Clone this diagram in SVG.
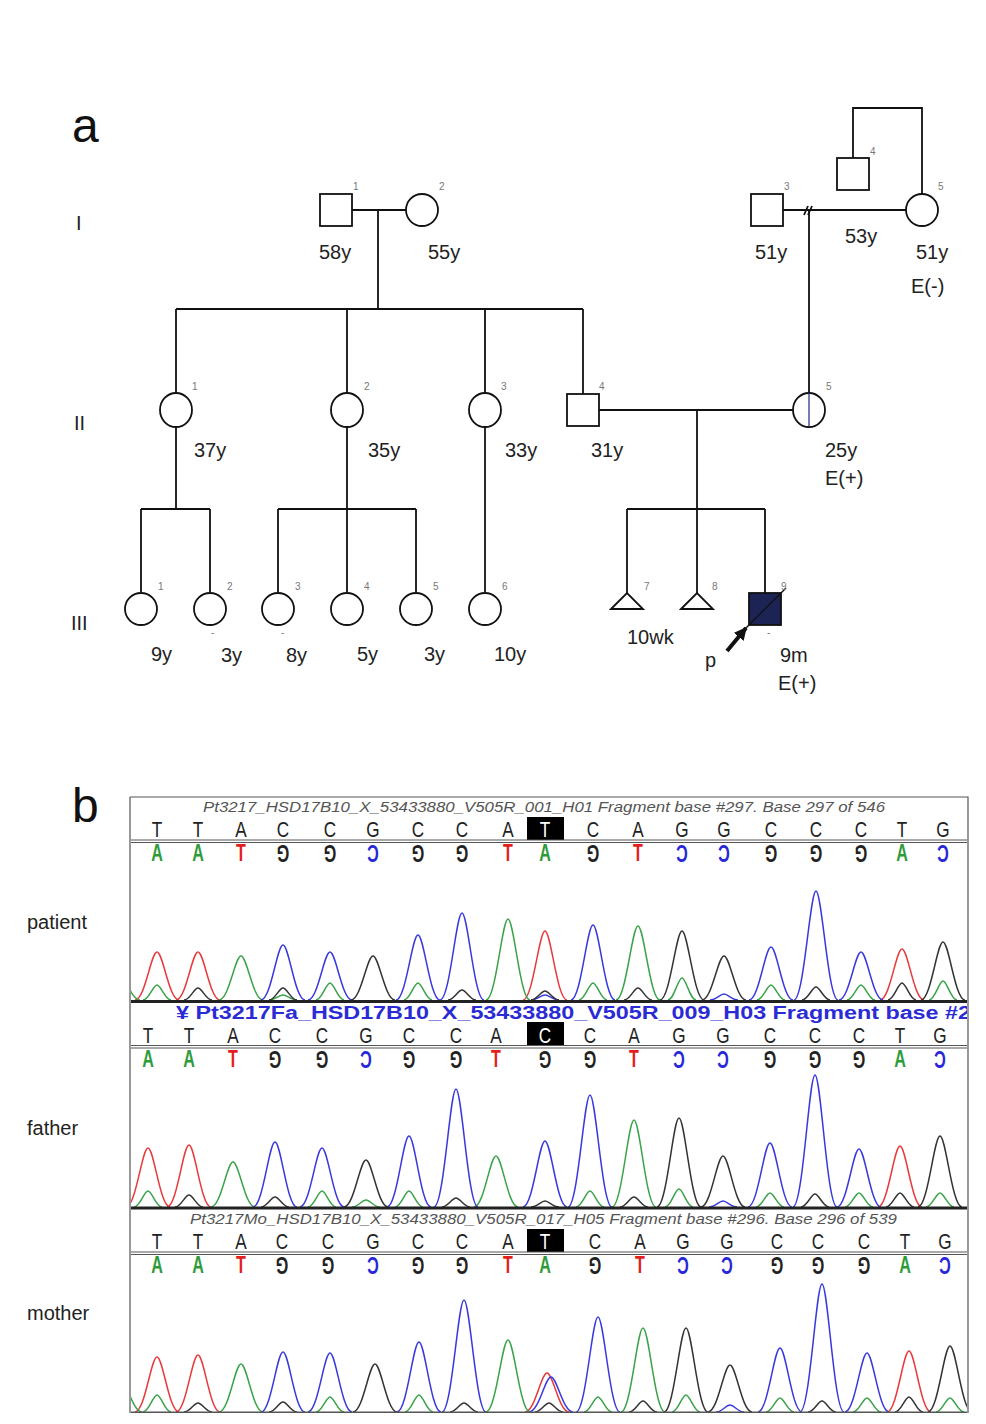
<svg xmlns="http://www.w3.org/2000/svg" width="986" height="1424" viewBox="0 0 986 1424">
<style>
text{font-family:"Liberation Sans",Arial,sans-serif}
.lbl{font-size:20px;fill:#222}
.big{font-size:48px;fill:#111}
.num{font-size:10px;fill:#777}
.sym{fill:#fff;stroke:#111;stroke-width:1.8}
.ln{fill:none;stroke:#111;stroke-width:1.8}
.b{font-size:22px;fill:#222;text-anchor:middle}
.c{font-size:23px;font-weight:bold;text-anchor:middle}
.cA{fill:#2e9b3a}.cT{fill:#e41e1e}.cG{fill:#222}.cC{fill:#2828d8}
.hl{font-size:22px;fill:#fff;text-anchor:middle}
.tr{fill:none;stroke-width:1.5;stroke-linejoin:round}
.red{stroke:#e8393b}.grn{stroke:#3aa34a}.blu{stroke:#3838e0}.blk{stroke:#333}
.ttl{font-size:15px;font-style:italic;fill:#555}
</style>
<defs>
<clipPath id="cp"><rect x="131" y="797" width="836" height="616"/></clipPath>
<marker id="ah" viewBox="0 0 10 10" refX="9" refY="5" markerWidth="3.2" markerHeight="3.2" orient="auto"><path d="M0,0 L10,5 L0,10 z" fill="#111"/></marker>
</defs>
<rect width="986" height="1424" fill="#fff"/>

<!-- Panel a -->
<text class="big" x="72" y="142">a</text>
<text class="lbl" x="76" y="230">I</text>
<text class="lbl" x="74" y="430">II</text>
<text class="lbl" x="71" y="630">III</text>

<g id="connectors">
<path class="ln" d="M352,210 H406 M378,210 V309 M176,309 H583 M176,309 V393 M347,309 V393 M485,309 V393 M583,309 V394"/>
<path class="ln" d="M783,210 H906 M809,210 V393 M853,158 V108 H922 V194"/>
<path class="ln" stroke-width="1.2" d="M804,215 L808,206 M808,215 L812,206"/>
<path class="ln" d="M599,410 H793 M697,410 V509 M627,509 H765 M627,509 V593 M697,509 V593 M765,509 V593"/>
<path class="ln" d="M176,427 V509 M141,509 H210 M141,509 V592 M210,509 V592"/>
<path class="ln" d="M347,427 V509 M278,509 H416 M278,509 V592 M347,509 V592 M416,509 V592"/>
<path class="ln" d="M485,427 V592"/>
</g>

<g id="I-1"><rect class="sym" x="320" y="194" width="32" height="32"/><text class="num" x="353" y="190">1</text><text class="lbl" x="319" y="259">58y</text></g>
<g id="I-2"><ellipse class="sym" cx="422" cy="210" rx="16" ry="16"/><text class="num" x="439" y="190">2</text><text class="lbl" x="428" y="259">55y</text></g>
<g id="I-3"><rect class="sym" x="751" y="194" width="32" height="32"/><text class="num" x="784" y="190">3</text><text class="lbl" x="755" y="259">51y</text></g>
<g id="I-4"><rect class="sym" x="837" y="158" width="32" height="32"/><text class="num" x="870" y="155">4</text><text class="lbl" x="845" y="243">53y</text></g>
<g id="I-5"><ellipse class="sym" cx="922" cy="210" rx="16" ry="16"/><text class="num" x="938" y="190">5</text><text class="lbl" x="916" y="259">51y</text><text class="lbl" x="911" y="293">E(-)</text></g>

<g id="II-1"><ellipse class="sym" cx="176" cy="410" rx="16" ry="17"/><text class="num" x="192" y="390">1</text><text class="lbl" x="194" y="457">37y</text></g>
<g id="II-2"><ellipse class="sym" cx="347" cy="410" rx="16" ry="17"/><text class="num" x="364" y="390">2</text><text class="lbl" x="368" y="457">35y</text></g>
<g id="II-3"><ellipse class="sym" cx="485" cy="410" rx="16" ry="17"/><text class="num" x="501" y="390">3</text><text class="lbl" x="505" y="457">33y</text></g>
<g id="II-4"><rect class="sym" x="567" y="394" width="32" height="32"/><text class="num" x="599" y="390">4</text><text class="lbl" x="591" y="457">31y</text></g>
<g id="II-5"><ellipse class="sym" cx="809" cy="410" rx="16" ry="17"/><path d="M809,393 V427" stroke="#2a3a80" stroke-width="1.3"/><text class="num" x="826" y="390">5</text><text class="lbl" x="825" y="457">25y</text><text class="lbl" x="825" y="485">E(+)</text></g>

<g id="III-1"><ellipse class="sym" cx="141" cy="609" rx="16" ry="16"/><text class="num" x="158" y="590">1</text><text class="lbl" x="151" y="661">9y</text></g>
<g id="III-2"><ellipse class="sym" cx="210" cy="609" rx="16" ry="16"/><text class="num" x="227" y="590">2</text><text class="num" x="211" y="636">-</text><text class="lbl" x="221" y="662">3y</text></g>
<g id="III-3"><ellipse class="sym" cx="278" cy="609" rx="16" ry="16"/><text class="num" x="295" y="590">3</text><text class="num" x="281" y="636">-</text><text class="lbl" x="286" y="662">8y</text></g>
<g id="III-4"><ellipse class="sym" cx="347" cy="609" rx="16" ry="16"/><text class="num" x="364" y="590">4</text><text class="lbl" x="357" y="661">5y</text></g>
<g id="III-5"><ellipse class="sym" cx="416" cy="609" rx="16" ry="16"/><text class="num" x="433" y="590">5</text><text class="lbl" x="424" y="661">3y</text></g>
<g id="III-6"><ellipse class="sym" cx="485" cy="609" rx="16" ry="16"/><text class="num" x="502" y="590">6</text><text class="lbl" x="494" y="661">10y</text></g>
<g id="III-7"><polygon class="sym" points="611,609 627,593 643,609"/><text class="num" x="644" y="590">7</text><text class="lbl" x="627" y="644">10wk</text></g>
<g id="III-8"><polygon class="sym" points="681,609 697,593 713,609"/><text class="num" x="712" y="590">8</text></g>
<g id="III-9"><rect x="749" y="593" width="32" height="32" fill="#1c2456" stroke="#111" stroke-width="1.8"/><path d="M745,629 L786,588" stroke="#111" stroke-width="1.5"/><text class="num" x="781" y="590">9</text><text class="num" x="767" y="636">-</text><path d="M727,651 L746,628" stroke="#111" stroke-width="4" marker-end="url(#ah)"/><text class="lbl" x="705" y="667">p</text><text class="lbl" x="780" y="662">9m</text><text class="lbl" x="778" y="690">E(+)</text></g>

<!-- Panel b -->
<text class="big" x="72" y="822">b</text>
<text class="lbl" x="27" y="929">patient</text>
<text class="lbl" x="27" y="1135">father</text>
<text class="lbl" x="27" y="1320">mother</text>

<g id="chromatograms" clip-path="url(#cp)">
<!-- patient -->
<text class="ttl" x="203" y="812" textLength="682" lengthAdjust="spacingAndGlyphs">Pt3217_HSD17B10_X_53433880_V505R_001_H01 Fragment base #297. Base 297 of 546</text>
<rect x="527" y="817" width="37" height="23" fill="#000"/>
<g>
<text class="b" transform="translate(157,837) scale(0.78,1)">T</text>
<text class="b" transform="translate(198,837) scale(0.78,1)">T</text>
<text class="b" transform="translate(241,837) scale(0.78,1)">A</text>
<text class="b" transform="translate(283,837) scale(0.78,1)">C</text>
<text class="b" transform="translate(330,837) scale(0.78,1)">C</text>
<text class="b" transform="translate(373,837) scale(0.78,1)">G</text>
<text class="b" transform="translate(418,837) scale(0.78,1)">C</text>
<text class="b" transform="translate(462,837) scale(0.78,1)">C</text>
<text class="b" transform="translate(508,837) scale(0.78,1)">A</text>
<text class="hl" transform="translate(545,837) scale(0.78,1)">T</text>
<text class="b" transform="translate(593,837) scale(0.78,1)">C</text>
<text class="b" transform="translate(638,837) scale(0.78,1)">A</text>
<text class="b" transform="translate(682,837) scale(0.78,1)">G</text>
<text class="b" transform="translate(724,837) scale(0.78,1)">G</text>
<text class="b" transform="translate(771,837) scale(0.78,1)">C</text>
<text class="b" transform="translate(816,837) scale(0.78,1)">C</text>
<text class="b" transform="translate(861,837) scale(0.78,1)">C</text>
<text class="b" transform="translate(902,837) scale(0.78,1)">T</text>
<text class="b" transform="translate(943,837) scale(0.78,1)">G</text>
</g>
<path d="M130,840 H968 M130,842.5 H968" stroke="#555" stroke-width="1"/>
<g>
<text class="c cA" transform="translate(157,861) scale(0.7,1)">A</text>
<text class="c cA" transform="translate(198,861) scale(0.7,1)">A</text>
<text class="c cT" transform="translate(241,861) scale(0.7,1)">T</text>
<text class="c cG" transform="translate(283,853) rotate(180) translate(0,8) scale(0.7,1)">G</text>
<text class="c cG" transform="translate(330,853) rotate(180) translate(0,8) scale(0.7,1)">G</text>
<text class="c cC" transform="translate(373,853) rotate(180) translate(0,8) scale(0.7,1)">C</text>
<text class="c cG" transform="translate(418,853) rotate(180) translate(0,8) scale(0.7,1)">G</text>
<text class="c cG" transform="translate(462,853) rotate(180) translate(0,8) scale(0.7,1)">G</text>
<text class="c cT" transform="translate(508,861) scale(0.7,1)">T</text>
<text class="c cA" transform="translate(545,861) scale(0.7,1)">A</text>
<text class="c cG" transform="translate(593,853) rotate(180) translate(0,8) scale(0.7,1)">G</text>
<text class="c cT" transform="translate(638,861) scale(0.7,1)">T</text>
<text class="c cC" transform="translate(682,853) rotate(180) translate(0,8) scale(0.7,1)">C</text>
<text class="c cC" transform="translate(724,853) rotate(180) translate(0,8) scale(0.7,1)">C</text>
<text class="c cG" transform="translate(771,853) rotate(180) translate(0,8) scale(0.7,1)">G</text>
<text class="c cG" transform="translate(816,853) rotate(180) translate(0,8) scale(0.7,1)">G</text>
<text class="c cG" transform="translate(861,853) rotate(180) translate(0,8) scale(0.7,1)">G</text>
<text class="c cA" transform="translate(902,861) scale(0.7,1)">A</text>
<text class="c cC" transform="translate(943,853) rotate(180) translate(0,8) scale(0.7,1)">C</text>
</g>
<path class="tr red" d="M135,1000c10,0 16,-48 22,-48s12,48 22,48 M176,1000c10,0 16,-48 22,-48s12,48 22,48 M523,1000c10,0 16,-69 22,-69s12,69 22,69 M880,1000c10,0 16,-51 22,-51s12,51 22,51"/>
<path class="tr grn" d="M96,1000c10,0 16,-30 22,-30s12,30 22,30 M219,1000c10,0 16,-44 22,-44s12,44 22,44 M486,1000c10,0 16,-81 22,-81s12,81 22,81 M616,1000c10,0 16,-74 22,-74s12,74 22,74 M143,1000c6,0 10,-15 14,-15s8,15 14,15 M269,1000c6,0 10,-5 14,-5s8,5 14,5 M316,1000c6,0 10,-17 14,-17s8,17 14,17 M404,1000c6,0 10,-17 14,-17s8,17 14,17 M579,1000c6,0 10,-17 14,-17s8,17 14,17 M668,1000c6,0 10,-22 14,-22s8,22 14,22 M757,1000c6,0 10,-15 14,-15s8,15 14,15 M847,1000c6,0 10,-15 14,-15s8,15 14,15 M929,1000c6,0 10,-19 14,-19s8,19 14,19"/>
<path class="tr blu" d="M261,1000c10,0 16,-55 22,-55s12,55 22,55 M308,1000c10,0 16,-48 22,-48s12,48 22,48 M396,1000c10,0 16,-65 22,-65s12,65 22,65 M440,1000c10,0 16,-87 22,-87s12,87 22,87 M571,1000c10,0 16,-75 22,-75s12,75 22,75 M749,1000c10,0 16,-53 22,-53s12,53 22,53 M794,1000c10,0 16,-109 22,-109s12,109 22,109 M839,1000c10,0 16,-48 22,-48s12,48 22,48 M531,1000c6,0 10,-5 14,-5s8,5 14,5 M710,1000c6,0 10,-6 14,-6s8,6 14,6"/>
<path class="tr blk" d="M351,1000c10,0 16,-44 22,-44s12,44 22,44 M660,1000c10,0 16,-69 22,-69s12,69 22,69 M702,1000c10,0 16,-44 22,-44s12,44 22,44 M921,1000c10,0 16,-58 22,-58s12,58 22,58 M184,1000c6,0 10,-12 14,-12s8,12 14,12 M269,1000c6,0 10,-12 14,-12s8,12 14,12 M448,1000c6,0 10,-10 14,-10s8,10 14,10 M531,1000c6,0 10,-9 14,-9s8,9 14,9 M624,1000c6,0 10,-12 14,-12s8,12 14,12 M802,1000c6,0 10,-13 14,-13s8,13 14,13 M888,1000c6,0 10,-17 14,-17s8,17 14,17"/>
<path d="M130,1001.5 H968" stroke="#222" stroke-width="3"/>

<!-- father -->
<text x="176" y="1019" font-size="18" font-weight="bold" fill="#2b2bd6" textLength="795" lengthAdjust="spacingAndGlyphs">¥ Pt3217Fa_HSD17B10_X_53433880_V505R_009_H03 Fragment base #2</text>
<rect x="527" y="1022" width="37" height="23" fill="#000"/>
<g>
<text class="b" transform="translate(148,1043) scale(0.78,1)">T</text>
<text class="b" transform="translate(189,1043) scale(0.78,1)">T</text>
<text class="b" transform="translate(233,1043) scale(0.78,1)">A</text>
<text class="b" transform="translate(275,1043) scale(0.78,1)">C</text>
<text class="b" transform="translate(322,1043) scale(0.78,1)">C</text>
<text class="b" transform="translate(366,1043) scale(0.78,1)">G</text>
<text class="b" transform="translate(409,1043) scale(0.78,1)">C</text>
<text class="b" transform="translate(456,1043) scale(0.78,1)">C</text>
<text class="b" transform="translate(496,1043) scale(0.78,1)">A</text>
<text class="hl" transform="translate(545,1043) scale(0.78,1)">C</text>
<text class="b" transform="translate(590,1043) scale(0.78,1)">C</text>
<text class="b" transform="translate(634,1043) scale(0.78,1)">A</text>
<text class="b" transform="translate(679,1043) scale(0.78,1)">G</text>
<text class="b" transform="translate(723,1043) scale(0.78,1)">G</text>
<text class="b" transform="translate(770,1043) scale(0.78,1)">C</text>
<text class="b" transform="translate(815,1043) scale(0.78,1)">C</text>
<text class="b" transform="translate(859,1043) scale(0.78,1)">C</text>
<text class="b" transform="translate(900,1043) scale(0.78,1)">T</text>
<text class="b" transform="translate(940,1043) scale(0.78,1)">G</text>
</g>
<path d="M130,1045.5 H968 M130,1048 H968" stroke="#555" stroke-width="1"/>
<g>
<text class="c cA" transform="translate(148,1067) scale(0.7,1)">A</text>
<text class="c cA" transform="translate(189,1067) scale(0.7,1)">A</text>
<text class="c cT" transform="translate(233,1067) scale(0.7,1)">T</text>
<text class="c cG" transform="translate(275,1059) rotate(180) translate(0,8) scale(0.7,1)">G</text>
<text class="c cG" transform="translate(322,1059) rotate(180) translate(0,8) scale(0.7,1)">G</text>
<text class="c cC" transform="translate(366,1059) rotate(180) translate(0,8) scale(0.7,1)">C</text>
<text class="c cG" transform="translate(409,1059) rotate(180) translate(0,8) scale(0.7,1)">G</text>
<text class="c cG" transform="translate(456,1059) rotate(180) translate(0,8) scale(0.7,1)">G</text>
<text class="c cT" transform="translate(496,1067) scale(0.7,1)">T</text>
<text class="c cG" transform="translate(545,1059) rotate(180) translate(0,8) scale(0.7,1)">G</text>
<text class="c cG" transform="translate(590,1059) rotate(180) translate(0,8) scale(0.7,1)">G</text>
<text class="c cT" transform="translate(634,1067) scale(0.7,1)">T</text>
<text class="c cC" transform="translate(679,1059) rotate(180) translate(0,8) scale(0.7,1)">C</text>
<text class="c cC" transform="translate(723,1059) rotate(180) translate(0,8) scale(0.7,1)">C</text>
<text class="c cG" transform="translate(770,1059) rotate(180) translate(0,8) scale(0.7,1)">G</text>
<text class="c cG" transform="translate(815,1059) rotate(180) translate(0,8) scale(0.7,1)">G</text>
<text class="c cG" transform="translate(859,1059) rotate(180) translate(0,8) scale(0.7,1)">G</text>
<text class="c cA" transform="translate(900,1067) scale(0.7,1)">A</text>
<text class="c cC" transform="translate(940,1059) rotate(180) translate(0,8) scale(0.7,1)">C</text>
</g>
<path class="tr red" d="M126,1207c10,0 16,-59 22,-59s12,59 22,59 M167,1207c10,0 16,-62 22,-62s12,62 22,62 M878,1207c10,0 16,-61 22,-61s12,61 22,61 M968,1207c10,0 16,-50 22,-50s12,50 22,50"/>
<path class="tr grn" d="M211,1207c10,0 16,-45 22,-45s12,45 22,45 M474,1207c10,0 16,-51 22,-51s12,51 22,51 M612,1207c10,0 16,-87 22,-87s12,87 22,87 M134,1207c6,0 10,-16 14,-16s8,16 14,16 M308,1207c6,0 10,-16 14,-16s8,16 14,16 M352,1207c6,0 10,-7 14,-7s8,7 14,7 M395,1207c6,0 10,-16 14,-16s8,16 14,16 M576,1207c6,0 10,-16 14,-16s8,16 14,16 M665,1207c6,0 10,-18 14,-18s8,18 14,18 M756,1207c6,0 10,-14 14,-14s8,14 14,14 M845,1207c6,0 10,-14 14,-14s8,14 14,14 M926,1207c6,0 10,-14 14,-14s8,14 14,14"/>
<path class="tr blu" d="M253,1207c10,0 16,-65 22,-65s12,65 22,65 M300,1207c10,0 16,-59 22,-59s12,59 22,59 M387,1207c10,0 16,-71 22,-71s12,71 22,71 M434,1207c10,0 16,-118 22,-118s12,118 22,118 M523,1207c10,0 16,-66 22,-66s12,66 22,66 M568,1207c10,0 16,-112 22,-112s12,112 22,112 M748,1207c10,0 16,-64 22,-64s12,64 22,64 M793,1207c10,0 16,-132 22,-132s12,132 22,132 M837,1207c10,0 16,-58 22,-58s12,58 22,58 M709,1207c6,0 10,-6 14,-6s8,6 14,6"/>
<path class="tr blk" d="M344,1207c10,0 16,-47 22,-47s12,47 22,47 M657,1207c10,0 16,-89 22,-89s12,89 22,89 M701,1207c10,0 16,-51 22,-51s12,51 22,51 M918,1207c10,0 16,-71 22,-71s12,71 22,71 M175,1207c6,0 10,-12 14,-12s8,12 14,12 M261,1207c6,0 10,-10 14,-10s8,10 14,10 M442,1207c6,0 10,-9 14,-9s8,9 14,9 M531,1207c6,0 10,-6 14,-6s8,6 14,6 M620,1207c6,0 10,-10 14,-10s8,10 14,10 M801,1207c6,0 10,-13 14,-13s8,13 14,13 M886,1207c6,0 10,-14 14,-14s8,14 14,14"/>
<path d="M130,1208 H968" stroke="#222" stroke-width="3"/>

<!-- mother -->
<text class="ttl" x="190" y="1224" textLength="707" lengthAdjust="spacingAndGlyphs">Pt3217Mo_HSD17B10_X_53433880_V505R_017_H05 Fragment base #296. Base 296 of 539</text>
<rect x="527" y="1229" width="37" height="23" fill="#000"/>
<g>
<text class="b" transform="translate(157,1249) scale(0.78,1)">T</text>
<text class="b" transform="translate(198,1249) scale(0.78,1)">T</text>
<text class="b" transform="translate(241,1249) scale(0.78,1)">A</text>
<text class="b" transform="translate(282,1249) scale(0.78,1)">C</text>
<text class="b" transform="translate(328,1249) scale(0.78,1)">C</text>
<text class="b" transform="translate(373,1249) scale(0.78,1)">G</text>
<text class="b" transform="translate(418,1249) scale(0.78,1)">C</text>
<text class="b" transform="translate(462,1249) scale(0.78,1)">C</text>
<text class="b" transform="translate(508,1249) scale(0.78,1)">A</text>
<text class="hl" transform="translate(545,1249) scale(0.78,1)">T</text>
<text class="b" transform="translate(595,1249) scale(0.78,1)">C</text>
<text class="b" transform="translate(640,1249) scale(0.78,1)">A</text>
<text class="b" transform="translate(683,1249) scale(0.78,1)">G</text>
<text class="b" transform="translate(727,1249) scale(0.78,1)">G</text>
<text class="b" transform="translate(777,1249) scale(0.78,1)">C</text>
<text class="b" transform="translate(818,1249) scale(0.78,1)">C</text>
<text class="b" transform="translate(864,1249) scale(0.78,1)">C</text>
<text class="b" transform="translate(905,1249) scale(0.78,1)">T</text>
<text class="b" transform="translate(945,1249) scale(0.78,1)">G</text>
</g>
<path d="M130,1252 H968 M130,1254.5 H968" stroke="#555" stroke-width="1"/>
<g>
<text class="c cA" transform="translate(157,1273) scale(0.7,1)">A</text>
<text class="c cA" transform="translate(198,1273) scale(0.7,1)">A</text>
<text class="c cT" transform="translate(241,1273) scale(0.7,1)">T</text>
<text class="c cG" transform="translate(282,1265) rotate(180) translate(0,8) scale(0.7,1)">G</text>
<text class="c cG" transform="translate(328,1265) rotate(180) translate(0,8) scale(0.7,1)">G</text>
<text class="c cC" transform="translate(373,1265) rotate(180) translate(0,8) scale(0.7,1)">C</text>
<text class="c cG" transform="translate(418,1265) rotate(180) translate(0,8) scale(0.7,1)">G</text>
<text class="c cG" transform="translate(462,1265) rotate(180) translate(0,8) scale(0.7,1)">G</text>
<text class="c cT" transform="translate(508,1273) scale(0.7,1)">T</text>
<text class="c cA" transform="translate(545,1273) scale(0.7,1)">A</text>
<text class="c cG" transform="translate(595,1265) rotate(180) translate(0,8) scale(0.7,1)">G</text>
<text class="c cT" transform="translate(640,1273) scale(0.7,1)">T</text>
<text class="c cC" transform="translate(683,1265) rotate(180) translate(0,8) scale(0.7,1)">C</text>
<text class="c cC" transform="translate(727,1265) rotate(180) translate(0,8) scale(0.7,1)">C</text>
<text class="c cG" transform="translate(777,1265) rotate(180) translate(0,8) scale(0.7,1)">G</text>
<text class="c cG" transform="translate(818,1265) rotate(180) translate(0,8) scale(0.7,1)">G</text>
<text class="c cG" transform="translate(864,1265) rotate(180) translate(0,8) scale(0.7,1)">G</text>
<text class="c cA" transform="translate(905,1273) scale(0.7,1)">A</text>
<text class="c cC" transform="translate(945,1265) rotate(180) translate(0,8) scale(0.7,1)">C</text>
</g>
<path class="tr red" d="M135,1412c10,0 16,-55 22,-55s12,55 22,55 M176,1412c10,0 16,-57 22,-57s12,57 22,57 M525,1412c10,0 16,-39 22,-39s12,39 22,39 M887,1412c10,0 16,-61 22,-61s12,61 22,61"/>
<path class="tr grn" d="M98,1412c10,0 16,-35 22,-35s12,35 22,35 M219,1412c10,0 16,-48 22,-48s12,48 22,48 M486,1412c10,0 16,-72 22,-72s12,72 22,72 M621,1412c10,0 16,-84 22,-84s12,84 22,84 M143,1412c6,0 10,-17 14,-17s8,17 14,17 M316,1412c6,0 10,-15 14,-15s8,15 14,15 M405,1412c6,0 10,-17 14,-17s8,17 14,17 M584,1412c6,0 10,-15 14,-15s8,15 14,15 M672,1412c6,0 10,-17 14,-17s8,17 14,17 M766,1412c6,0 10,-14 14,-14s8,14 14,14 M853,1412c6,0 10,-14 14,-14s8,14 14,14 M936,1412c6,0 10,-14 14,-14s8,14 14,14"/>
<path class="tr blu" d="M261,1412c10,0 16,-60 22,-60s12,60 22,60 M308,1412c10,0 16,-59 22,-59s12,59 22,59 M397,1412c10,0 16,-70 22,-70s12,70 22,70 M442,1412c10,0 16,-112 22,-112s12,112 22,112 M529,1412c10,0 16,-35 22,-35s12,35 22,35 M576,1412c10,0 16,-95 22,-95s12,95 22,95 M758,1412c10,0 16,-64 22,-64s12,64 22,64 M800,1412c10,0 16,-128 22,-128s12,128 22,128 M845,1412c10,0 16,-59 22,-59s12,59 22,59 M716,1412c6,0 10,-7 14,-7s8,7 14,7"/>
<path class="tr blk" d="M353,1412c10,0 16,-48 22,-48s12,48 22,48 M664,1412c10,0 16,-84 22,-84s12,84 22,84 M708,1412c10,0 16,-47 22,-47s12,47 22,47 M928,1412c10,0 16,-66 22,-66s12,66 22,66 M184,1412c6,0 10,-9 14,-9s8,9 14,9 M269,1412c6,0 10,-10 14,-10s8,10 14,10 M450,1412c6,0 10,-9 14,-9s8,9 14,9 M535,1412c6,0 10,-9 14,-9s8,9 14,9 M629,1412c6,0 10,-11 14,-11s8,11 14,11 M808,1412c6,0 10,-11 14,-11s8,11 14,11 M895,1412c6,0 10,-15 14,-15s8,15 14,15"/>
<path d="M130,1412.5 H968" stroke="#555" stroke-width="2"/>
</g>
<path d="M130,797 H968 V1413 M130,797 V1413" fill="none" stroke="#555" stroke-width="1.2"/>
</svg>
